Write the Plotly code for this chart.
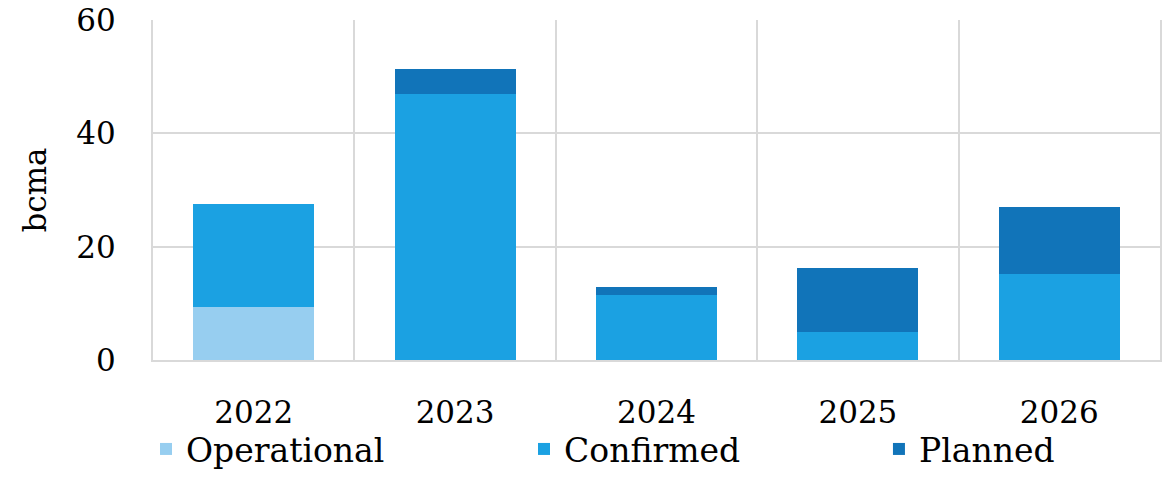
import plotly.graph_objects as go

years = ["2022", "2023", "2024", "2025", "2026"]
operational = [9.3, 0, 0, 0, 0]
confirmed = [18.2, 46.9, 11.5, 4.9, 15.2]
planned = [0, 4.5, 1.4, 11.3, 11.8]
series_names = ["Operational", "Confirmed", "Planned"]
colors = ["#97CEF0", "#1BA1E2", "#1174B9"]
y_ticks = [0, 20, 40, 60]

FONT = "DejaVu Serif"

fig = go.Figure()
legends = ["legend", "legend2", "legend3"]
for name, vals, col, lg in zip(series_names, [operational, confirmed, planned], colors, legends):
    fig.add_trace(go.Bar(
        x=years, y=vals, name=name, legend=lg, showlegend=True,
        marker=dict(color=col, line=dict(width=0)),
    ))

leg_common = dict(orientation="h", yref="container", xref="container",
                  yanchor="bottom", y=0.0, xanchor="left",
                  font=dict(family=FONT, size=33, color="#000000"),
                  bgcolor="rgba(0,0,0,0)", visible=True)

fig.update_layout(
    barmode="stack",
    bargap=0.4,
    showlegend=True,
    width=1171, height=477,
    margin=dict(l=153, r=11, t=20, b=117, autoexpand=False),
    paper_bgcolor="white", plot_bgcolor="white",
    font=dict(family=FONT, size=31, color="#000000"),
    legend=dict(x=0.1247, **leg_common),
    legend2=dict(x=0.4475, **leg_common),
    legend3=dict(x=0.7506, **leg_common),
    xaxis=dict(
        type="category", tickson="boundaries", showgrid=True,
        gridcolor="#D9D9D9", gridwidth=2, ticks="", showline=True,
        linecolor="#D9D9D9", linewidth=2, mirror=False,
        ticklabelstandoff=24,
        tickfont=dict(family=FONT, size=31),
    ),
    yaxis=dict(
        range=[0, 60], tickvals=y_ticks, showgrid=True,
        gridcolor="#D9D9D9", gridwidth=2, zeroline=False,
        showline=True, linecolor="#D9D9D9", linewidth=2, mirror=True,
        ticks="", ticklabelstandoff=29,
        title=dict(text="bcma", font=dict(family=FONT, size=31), standoff=20),
        tickfont=dict(family=FONT, size=31),
    ),
)

fig.write_html("out.html")
